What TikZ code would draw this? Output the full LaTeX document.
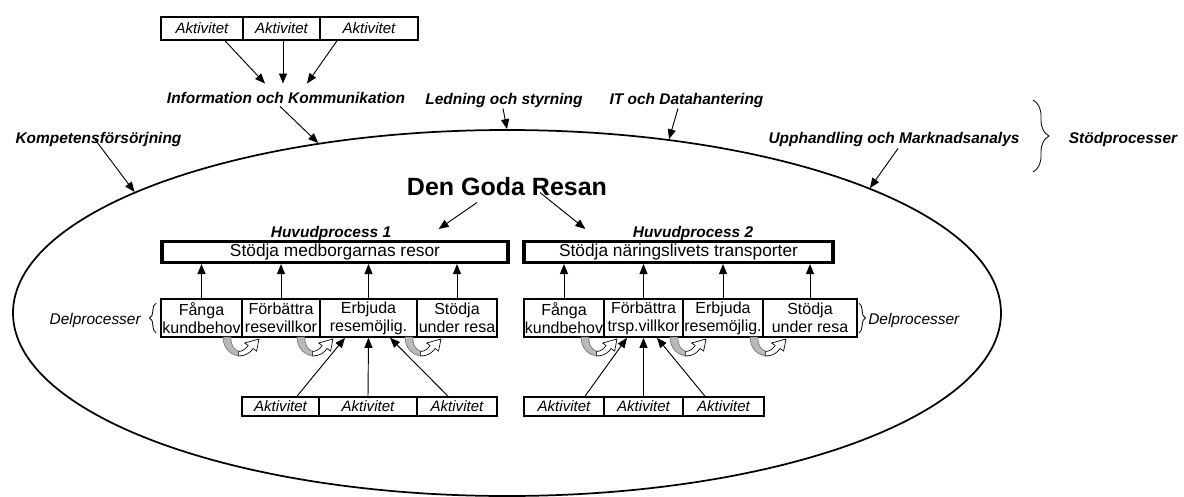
\documentclass[tikz,border=0pt]{standalone}
\usepackage{fontspec}
\setmainfont{Liberation Sans}
\usetikzlibrary{arrows.meta,shapes.geometric,calc,decorations.pathreplacing}
\begin{document}
\begin{tikzpicture}[x=0.75pt,y=-0.75pt,
  lab/.style={font=\fontsize{11.6}{14}\selectfont\bfseries\itshape, inner sep=0pt},
  dplab/.style={font=\fontsize{11.6}{14}\selectfont\itshape, inner sep=0pt},
  aktbox/.style={draw, line width=1.2pt, inner sep=0pt, minimum height=17.25pt, font=\fontsize{11.3}{13}\selectfont\itshape},
  botbox/.style={draw, line width=1.2pt, inner sep=0pt, minimum height=14.25pt, font=\fontsize{11.3}{13}\selectfont\itshape},
  subbox/.style={draw, line width=1.2pt, inner sep=0pt, minimum height=28.5pt, align=center, font=\fontsize{12}{13.5}\selectfont},
  mainbox/.style={draw, line width=2.5pt, inner sep=0pt, minimum height=15.5pt, font=\fontsize{13}{15}\selectfont},
  arr/.style={-{Triangle[length=7.5pt,width=6pt]}, line width=0.7pt},
  bracestyle/.style={decorate, line width=0.6pt},
  cyc/.pic={
    \path[fill=gray!55, draw=gray!80!black, line width=0.4pt] (0,0) .. controls (0,12) and (7,19) .. (15,19) -- (15,14.5) .. controls (10,14.5) and (6.5,9) .. (6.5,0) -- cycle;
    \path[fill=white, draw=black, line width=0.5pt] (13,19) .. controls (19,19) and (23,15.5) .. (25,11.5) -- (28,14) -- (30,2) -- (18,6) -- (21,8.5) .. controls (19,12) and (16,14.5) .. (13,14.5) -- cycle;
  }
]
\useasboundingbox (0,0) rectangle (1184,496);

% big ellipse
\node[ellipse, draw, line width=1.3pt, minimum width=741pt, minimum height=274.5pt, inner sep=0pt] (E) at (507,313) {};

% top activities
\node[aktbox, minimum width=61.5pt] (t1) at (202,28.5) {Aktivitet};
\node[aktbox, minimum width=57.75pt] (t2) at (281.5,28.5) {Aktivitet};
\node[aktbox, minimum width=73.5pt] (t3) at (369,28.5) {Aktivitet};

% support process labels
\node[lab, anchor=base] (info) at (286,103) {Information och Kommunikation};
\node[lab, anchor=base] (led) at (504,104) {Ledning och styrning};
\node[lab, anchor=base] (it) at (686.5,104) {IT och Datahantering};
\node[lab, anchor=base] (komp) at (98.5,143) {Kompetensförsörjning};
\node[lab, anchor=base] (upp) at (894,143) {Upphandling och Marknadsanalys};
\node[lab, anchor=base] (stod) at (1123,143) {Stödprocesser};

\draw[bracestyle, decoration={brace, amplitude=12pt}] (1033,100) -- (1033,172);

% arrows from top activities
\draw[arr] ($(t1.south)+(23,0)$) -- ($(info.north)+(-21,-8)$);
\draw[arr] ($(t2.south)+(1.5,0)$) -- ($(info.north)+(-3,-8)$);
\draw[arr] ($(t3.south)+(-32,0)$) -- ($(info.north)+(21,-8)$);

% arrows to ellipse
\draw[arr] ($(komp.south)+(-3.5,-7)$) -- (E.162.2);
\draw[arr] ($(info.south)+(-6,3)$) -- (E.138.5);
\draw[arr] ($(led.south)+(-1,1)$) -- (E.90);
\draw[arr] ($(it.south)+(-8.5,1)$) -- (E.47.6);
\draw[arr] ($(upp.south)+(4,2)$) -- (E.19.1);

% Den Goda Resan
\node[font=\fontsize{18.75}{22}\selectfont\bfseries, inner sep=0pt, anchor=base] (dgr) at (507,195) {Den Goda Resan};

% main processes
\node[mainbox, minimum width=259.5pt] (m1) at (335,252) {Stödja medborgarnas resor};
\node[mainbox, minimum width=231.75pt] (m2) at (678.5,252) {Stödja näringslivets transporter};
\node[lab, anchor=base] (hp1) at (331,237) {Huvudprocess 1};
\node[lab, anchor=base] (hp2) at (693,237) {Huvudprocess 2};

\draw[arr] ($(dgr.south)+(-30,7)$) -- ($(m1.north east)+(-71,-11)$);
\draw[arr] ($(dgr.south)+(33,-3)$) -- ($(m2.north west)+(63,-11)$);

% sub processes row 1
\node[subbox, minimum width=60.75pt] (s11) at (201.5,318) {Fånga\\kundbehov};
\node[subbox, minimum width=58.5pt] (s12) at (281,318) {Förbättra\\resevillkor};
\node[subbox, minimum width=72.75pt] (s13) at (368.5,318) {Erbjuda\\resemöjlig.};
\node[subbox, minimum width=60pt] (s14) at (457,318) {Stödja\\under resa};
% sub processes row 2
\node[subbox, minimum width=60pt] (s21) at (564,318) {Fånga\\kundbehov};
\node[subbox, minimum width=59.25pt] (s22) at (643.5,318) {Förbättra\\trsp.villkor};
\node[subbox, minimum width=60pt] (s23) at (723,318) {Erbjuda\\resemöjlig.};
\node[subbox, minimum width=70.5pt] (s24) at (810,318) {Stödja\\under resa};

\foreach \s in {s11,s12,s13,s14} \draw[arr] (\s.north) -- (\s.north |- m1.south);
\foreach \s in {s21,s22,s23,s24} \draw[arr] (\s.north) -- (\s.north |- m2.south);

% Delprocesser labels and braces
\node[dplab, anchor=base east] (dp1) at (141,324) {Delprocesser};
\draw[bracestyle, decoration={brace, amplitude=5pt}] ($(s11.south west)+(-4,-5)$) -- ($(s11.north west)+(-4,5)$);
\node[dplab, anchor=base west] (dp2) at (868,324) {Delprocesser};
\draw[bracestyle, decoration={brace, amplitude=5pt}] ($(s24.north east)+(1,5)$) -- ($(s24.south east)+(1,-5)$);

% cycle arrows
\foreach \x in {223,297,405,581,670,750} \pic[xscale=1.2] at (\x,337) {cyc};

% bottom activities
\node[botbox, minimum width=57.75pt] (b11) at (280.5,406.5) {Aktivitet};
\node[botbox, minimum width=73.5pt] (b12) at (368,406.5) {Aktivitet};
\node[botbox, minimum width=60pt] (b13) at (457,406.5) {Aktivitet};
\node[botbox, minimum width=60pt] (b21) at (564,406.5) {Aktivitet};
\node[botbox, minimum width=59.25pt] (b22) at (643.5,406.5) {Aktivitet};
\node[botbox, minimum width=60.75pt] (b23) at (723.5,406.5) {Aktivitet};

\draw[arr] ($(b11.north)+(16.5,0)$) -- ($(s13.south)+(-23.5,0)$);
\draw[arr] (b12.north) -- (s13.south);
\draw[arr] ($(b13.north)+(-9,0)$) -- ($(s13.south)+(21.5,0)$);
\draw[arr] ($(b21.north)+(21,0)$) -- ($(s22.south)+(-16.5,0)$);
\draw[arr] (b22.north) -- (s22.south);
\draw[arr] ($(b23.north)+(-18.5,0)$) -- ($(s22.south)+(13.5,0)$);
\end{tikzpicture}
\end{document}
